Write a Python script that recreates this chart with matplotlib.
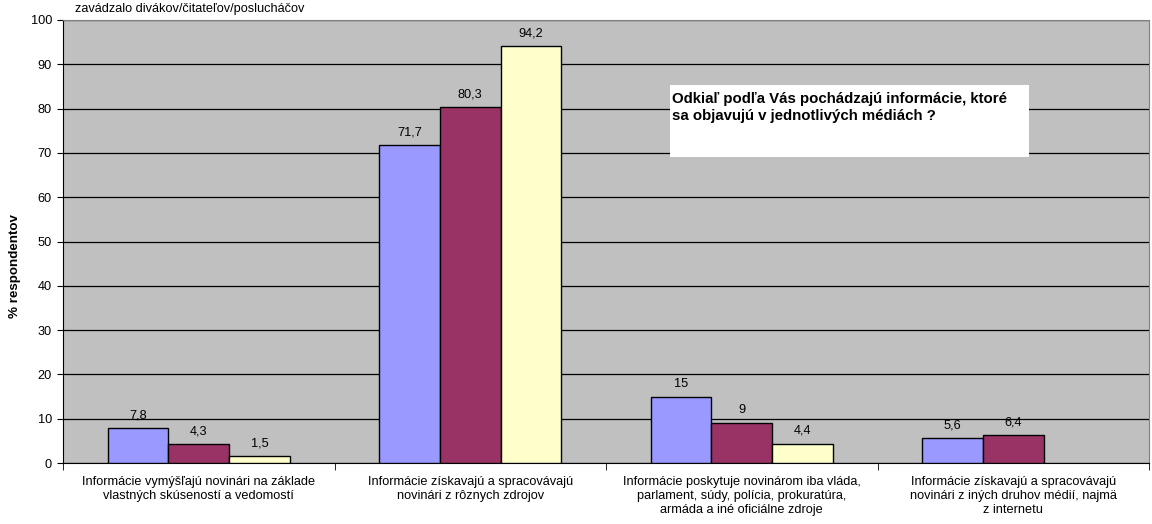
import numpy as np
import matplotlib
matplotlib.use("Agg")
import matplotlib.pyplot as plt

plt.rcParams['font.family'] = ['Liberation Sans', 'DejaVu Sans']

# categories (answers) and three series of percentages
categories = [
    "Informácie vymýšľajú novinári na základe\nvlastných skúseností a vedomostí",
    "Informácie získavajú a spracovávajú\nnovinári z rôznych zdrojov",
    "Informácie poskytuje novinárom iba vláda,\nparlament, súdy, polícia, prokuratúra,\narmáda a iné oficiálne zdroje",
    "Informácie získavajú a spracovávajú\nnovinári z iných druhov médií, najmä\nz internetu",
]
series_1 = [7.8, 71.7, 15, 5.6]
series_2 = [4.3, 80.3, 9, 6.4]
series_3 = [1.5, 94.2, 4.4, np.nan]

colors = ["#9999FF", "#993366", "#FFFFCC"]
y_ticks = list(range(0, 101, 10))

def fmt(v):
    s = f"{v:g}"
    return s.replace(".", ",")

fig = plt.figure(figsize=(11.52, 5.24), dpi=100)
ax = fig.add_axes([63 / 1152, 61 / 524, 1086 / 1152, 443 / 524])
ax.set_facecolor("#C0C0C0")

x = np.arange(len(categories))
w = 0.2236
for j, (vals, c) in enumerate(zip([series_1, series_2, series_3], colors)):
    pos = x + (j - 1) * w
    bars = ax.bar(pos, vals, width=w, color=c, edgecolor="black", linewidth=1, zorder=3)
    for b, v in zip(bars, vals):
        if np.isnan(v):
            continue
        ax.text(b.get_x() + b.get_width() / 2, v + 1.5, fmt(v),
                ha="center", va="bottom", fontsize=9.2, zorder=4)

ax.set_xlim(-0.5, 3.5)
ax.set_ylim(0, 100)
ax.set_yticks(y_ticks)
ax.tick_params(axis="y", direction="out", length=4, labelsize=9.2, pad=4)
ax.yaxis.grid(True, color="black", linewidth=0.9, zorder=1)
ax.set_axisbelow(True)

# category labels at centres, tick marks at boundaries
ax.set_xticks(x)
ax.set_xticklabels(categories, fontsize=9.2, linespacing=1.25)
ax.tick_params(axis="x", length=0, pad=9)
ax.set_xticks(np.arange(-0.5, 3.6, 1), minor=True)
ax.tick_params(axis="x", which="minor", direction="out", length=5)

for side in ["top", "right"]:
    ax.spines[side].set_color("#808080")
ax.spines["left"].set_color("black")
ax.spines["bottom"].set_color("black")

ax.set_ylabel("% respondentov", fontsize=9.6, fontweight="bold")
ax.yaxis.set_label_coords(-0.0385, 0.445)

fig.text(75 / 1152, 1 - 9 / 524, "zavádzalo divákov/čitateľov/poslucháčov",
         fontsize=9.2, ha="left", va="center")

# question box
ax.add_patch(plt.Rectangle((0.5585, 0.691), 0.331, 0.162, transform=ax.transAxes,
                           facecolor="white", edgecolor="none", zorder=4))
ax.text(0.561, 0.838, "Odkiaľ podľa Vás pochádzajú informácie, ktoré\nsa objavujú v jednotlivých médiách ?",
        transform=ax.transAxes, fontsize=10.8, fontweight="bold", ha="left", va="top",
        linespacing=1.3, zorder=5)

fig.savefig("out.png", dpi=100)
